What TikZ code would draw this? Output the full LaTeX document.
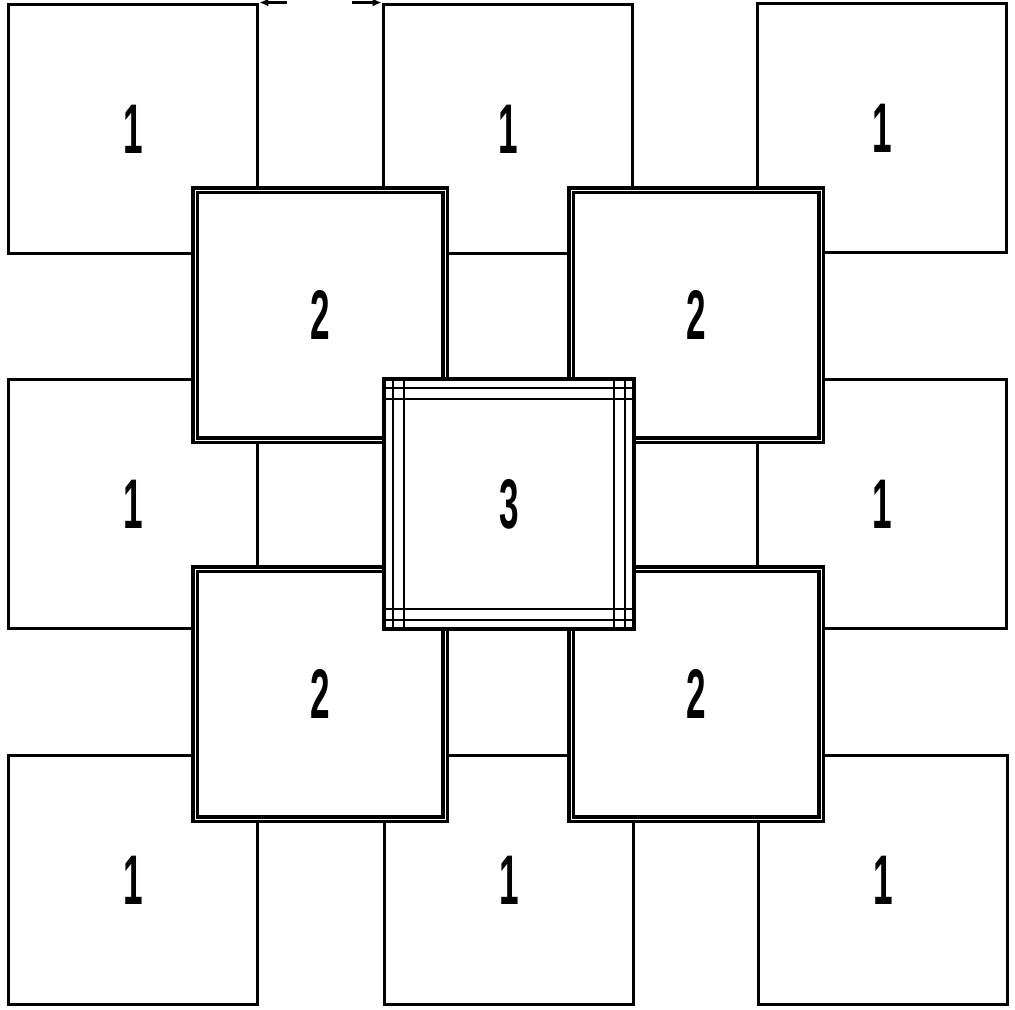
\documentclass[tikz,border=0pt]{standalone}
\usepackage{fontspec}
\setmainfont{Liberation Sans}
\usetikzlibrary{arrows.meta,calc}
\newcommand{\sqlabel}[1]{\scalebox{0.5}[1]{\fontsize{40}{40}\selectfont\bfseries #1}}

\begin{document}
\begin{tikzpicture}[
    x=0.02cm, y=-0.02cm,
    onebox/.style={rectangle, draw, line width=1.7pt, fill=white, minimum size=5cm, inner sep=0pt},
    twobox/.style={onebox, double, line width=2pt, double distance=0.45pt},
    threebox/.style={onebox, line width=2.2pt},
    arrow/.style={-{Latex[length=5pt,width=4.5pt]}, line width=1.6pt}
]
    \useasboundingbox (0,0) rectangle (1015,1009);
    % squares 1
    \node[onebox] (tl) at (133,129) {\sqlabel{1}};
    \node[onebox] (tm) at (508,129) {\sqlabel{1}};
    \node[onebox] (tr) at (882,128) {\sqlabel{1}};
    \node[onebox] (ml) at (133,504) {\sqlabel{1}};
    \node[onebox] (mr) at (882,504) {\sqlabel{1}};
    \node[onebox] (bl) at (133,880) {\sqlabel{1}};
    \node[onebox] (bm) at (509,880) {\sqlabel{1}};
    \node[onebox] (br) at (883,880) {\sqlabel{1}};
    % squares 2
    \node[twobox] (utl) at (320,315) {\sqlabel{2}};
    \node[twobox] (utr) at (696,315) {\sqlabel{2}};
    \node[twobox] (ubl) at (320,694) {\sqlabel{2}};
    \node[twobox] (ubr) at (696,694) {\sqlabel{2}};
    % square 3
    \node[threebox] (mid) at (509,504) {\sqlabel{3}};
    \foreach \d in {11,22} {
        \draw[line width=1.2pt] ($(mid.north west)+(0,\d)$) -- ($(mid.north east)+(0,\d)$);
        \draw[line width=1.2pt] ($(mid.south west)+(0,-\d)$) -- ($(mid.south east)+(0,-\d)$);
        \draw[line width=1.2pt] ($(mid.north west)+(\d,0)$) -- ($(mid.south west)+(\d,0)$);
        \draw[line width=1.2pt] ($(mid.north east)+(-\d,0)$) -- ($(mid.south east)+(-\d,0)$);
    }
    % gap arrows
    \coordinate (gapl) at ($(tl.north east)+(28,0)$);
    \coordinate (gapr) at ($(tm.north west)+(-30,0)$);
    \draw[arrow] (gapl) -- (tl.north east);
    \draw[arrow] (gapr) -- (tm.north west);
\end{tikzpicture}
\end{document}
